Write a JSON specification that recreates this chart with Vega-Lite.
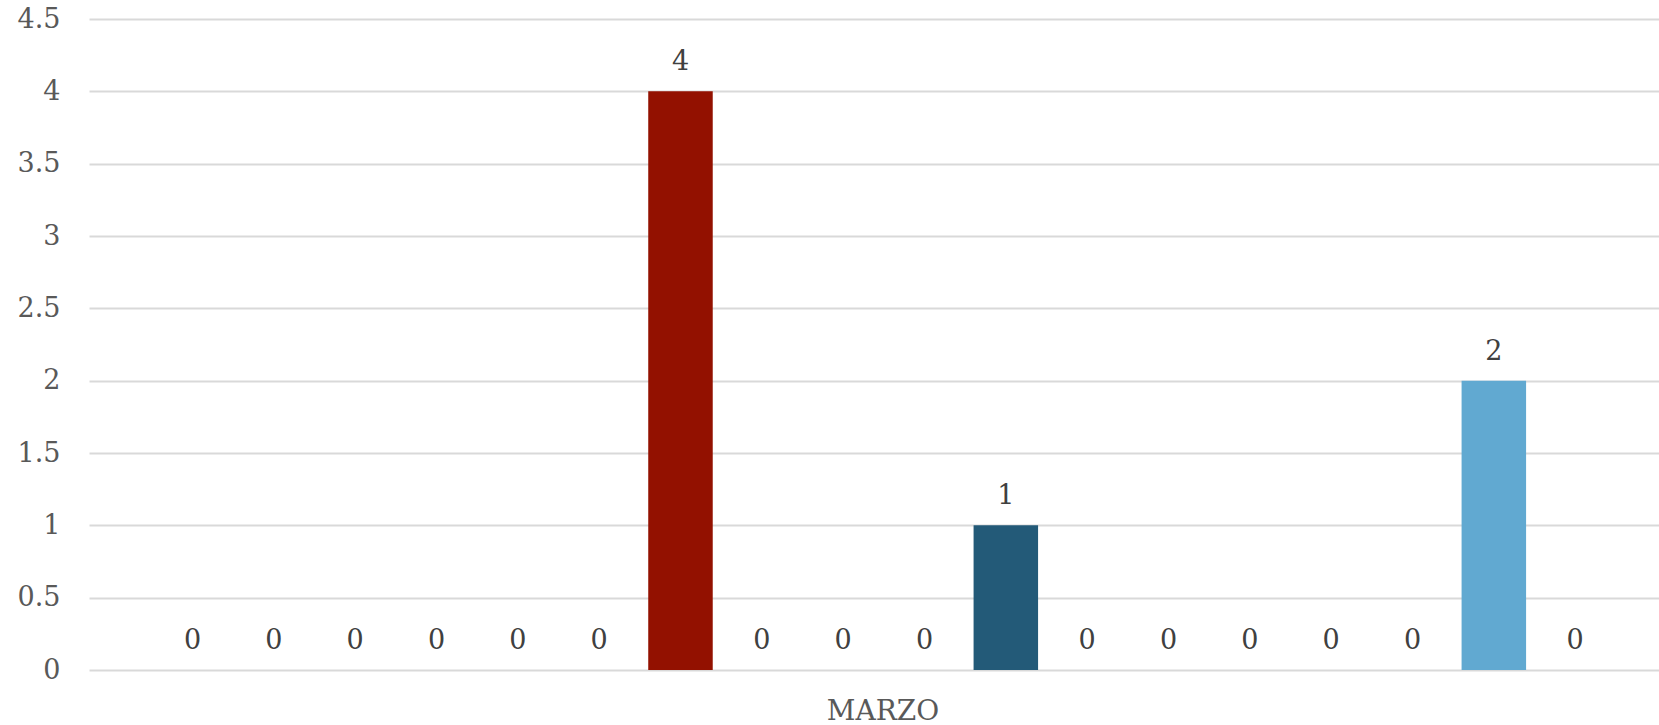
{
  "$schema": "https://vega.github.io/schema/vega-lite/v6.json",
  "width": 1570,
  "height": 651,
  "autosize": {"type": "none"},
  "padding": {"left": 89, "top": 19, "right": 0, "bottom": 55},
  "background": "white",
  "config": {"view": {"stroke": null}, "font": "DejaVu Serif"},
  "data": {
    "values": [
      {"mes": "MARZO", "serie": 1, "valor": 0},
      {"mes": "MARZO", "serie": 2, "valor": 0},
      {"mes": "MARZO", "serie": 3, "valor": 0},
      {"mes": "MARZO", "serie": 4, "valor": 0},
      {"mes": "MARZO", "serie": 5, "valor": 0},
      {"mes": "MARZO", "serie": 6, "valor": 0},
      {"mes": "MARZO", "serie": 7, "valor": 4},
      {"mes": "MARZO", "serie": 8, "valor": 0},
      {"mes": "MARZO", "serie": 9, "valor": 0},
      {"mes": "MARZO", "serie": 10, "valor": 0},
      {"mes": "MARZO", "serie": 11, "valor": 1},
      {"mes": "MARZO", "serie": 12, "valor": 0},
      {"mes": "MARZO", "serie": 13, "valor": 0},
      {"mes": "MARZO", "serie": 14, "valor": 0},
      {"mes": "MARZO", "serie": 15, "valor": 0},
      {"mes": "MARZO", "serie": 16, "valor": 0},
      {"mes": "MARZO", "serie": 17, "valor": 2},
      {"mes": "MARZO", "serie": 18, "valor": 0}
    ]
  },
  "encoding": {
    "x": {
      "field": "mes",
      "type": "nominal",
      "scale": {"paddingInner": 0, "paddingOuter": 0},
      "axis": {
        "title": null,
        "ticks": false,
        "domain": false,
        "labelFont": "DejaVu Serif",
        "labelFontSize": 28,
        "labelColor": "#595959",
        "labelPadding": 27,
        "labelAngle": 0,
        "labelOffset": 9
      }
    },
    "xOffset": {
      "field": "serie",
      "type": "ordinal",
      "scale": {"paddingInner": 0.207, "paddingOuter": 0.755, "align": 0.58}
    },
    "y": {
      "field": "valor",
      "type": "quantitative",
      "scale": {"domain": [0, 4.5], "nice": false},
      "axis": {
        "title": null,
        "values": [0, 0.5, 1, 1.5, 2, 2.5, 3, 3.5, 4, 4.5],
        "format": "~g",
        "domain": false,
        "ticks": false,
        "labelPadding": 29,
        "labelFont": "DejaVu Serif",
        "labelFontSize": 27,
        "labelColor": "#595959",
        "gridColor": "#d9d9d9",
        "gridWidth": 2
      }
    }
  },
  "layer": [
    {
      "mark": {"type": "bar"},
      "encoding": {
        "color": {
          "field": "serie",
          "type": "ordinal",
          "legend": null,
          "scale": {
            "domain": [1, 2, 3, 4, 5, 6, 7, 8, 9, 10, 11, 12, 13, 14, 15, 16, 17, 18],
            "range": ["#4472c4", "#ed7d31", "#a5a5a5", "#ffc000", "#5b9bd5", "#70ad47", "#931100", "#264478", "#9e480e", "#636363", "#235a78", "#997300", "#255e91", "#43682b", "#698ed0", "#f1975a", "#61a9d1", "#ffcd33"]
          }
        }
      }
    },
    {
      "mark": {"type": "text", "baseline": "middle", "dy": -29, "font": "DejaVu Serif", "fontSize": 27, "color": "#404040"},
      "encoding": {"text": {"field": "valor", "type": "quantitative", "format": "~g"}}
    }
  ]
}
